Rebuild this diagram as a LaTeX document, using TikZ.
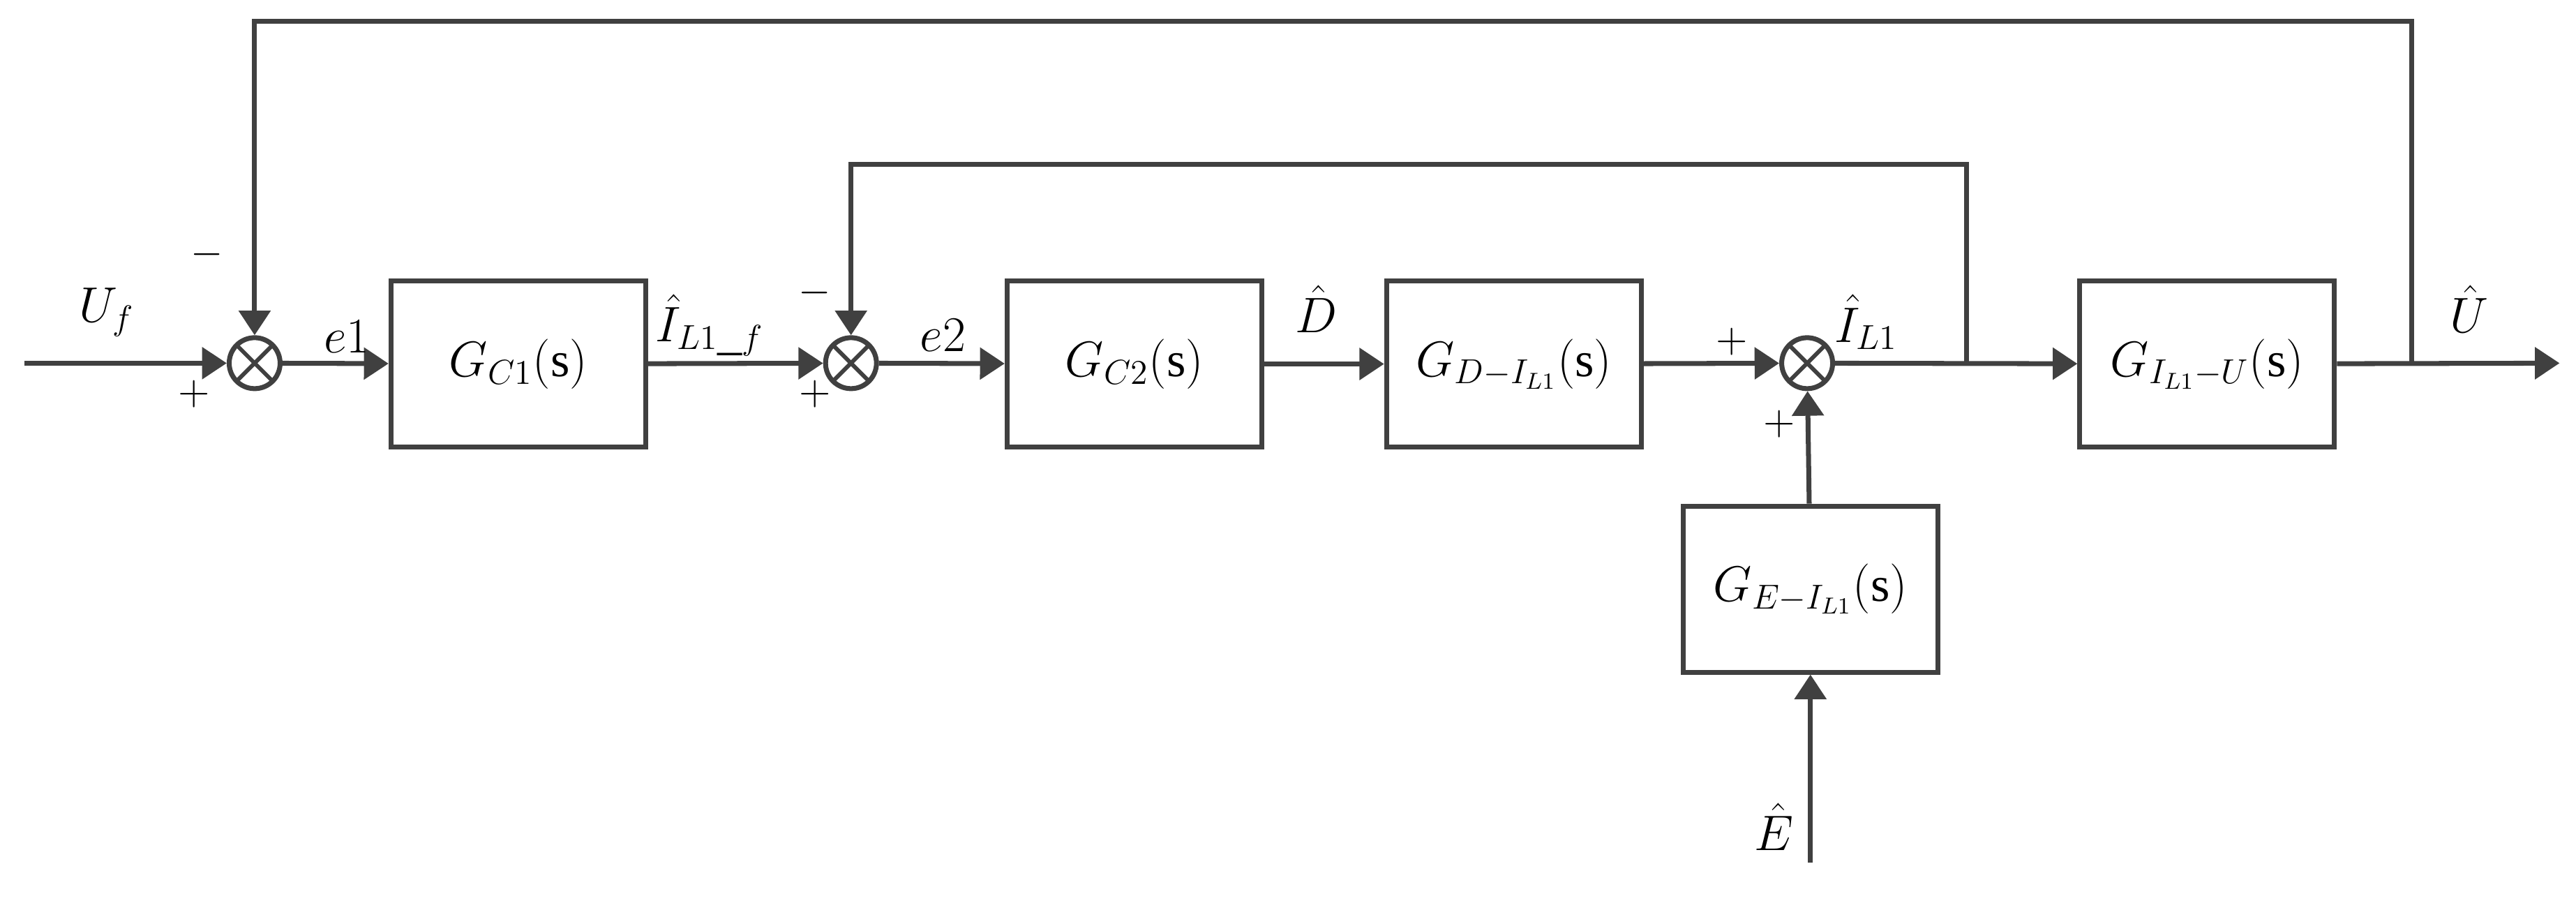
\documentclass[tikz,border=0pt]{standalone}
\usepackage{fontspec}
\setmainfont{Liberation Serif}
\usetikzlibrary{arrows.meta}
\usetikzlibrary{positioning}
\definecolor{lineGray}{HTML}{404040}
\tikzset{
  blk/.style={draw=lineGray, line width=1.7pt, minimum width=31mm, minimum height=20.2mm, inner sep=0pt,
    font=\fontsize{17}{20}\selectfont},
  sumnode/.style={draw=lineGray, line width=1.7pt, circle, minimum size=6.2mm, inner sep=0pt,
    path picture={\draw[lineGray, line width=1.4pt]
      (path picture bounding box.south west) -- (path picture bounding box.north east)
      (path picture bounding box.north west) -- (path picture bounding box.south east);}},
  sig/.style={draw=lineGray, line width=1.7pt, -{Triangle[length=3mm,width=3.8mm]}},
  lbl/.style={font=\fontsize{17}{20}\selectfont},
  sgn/.style={font=\fontsize{14}{16}\selectfont}
}
\begin{document}
\begin{tikzpicture}[x=0.2mm, y=-0.2mm]
      \useasboundingbox (0,0) rectangle (1568,548);

      % summing points and blocks
      \node[sumnode] (S1) at (155,221) {};
      \node[sumnode] (S2) at (518,221) {};
      \node[sumnode] (S3) at (1100,221) {};
      \node[blk] (GC1) at (315.5,221.5) {$G_{C1}(\mathrm{s})$};
      \node[blk] (GC2) at (690.5,221.5) {$G_{C2}(\mathrm{s})$};
      \node[blk] (GD) at (921.5,221.5) {$G_{D-I_{L1}}(\mathrm{s})$};
      \node[blk] (GU) at (1343.5,221.5) {$G_{I_{L1}-U}(\mathrm{s})$};
      \node[blk] (GE) at (1102,358.5) {$G_{E-I_{L1}}(\mathrm{s})$};

      \coordinate (In) at (15,221);
      \coordinate (Out) at (1558,221);
      \coordinate (EIn) at (1102,525);
      \coordinate (Tap1) at (1197,221);
      \coordinate (Tap2) at (1468,221);
      \coordinate (Top1) at (1197,100);
      \coordinate (Top2) at (1468,13);

      % forward path
      \draw[sig] (In) -- (S1);
      \draw[sig] (S1) -- (GC1);
      \draw[sig] (GC1) -- (S2);
      \draw[sig] (S2) -- (GC2);
      \draw[sig] (GC2) -- (GD);
      \draw[sig] (GD) -- (S3);
      \draw[sig] (S3) -- (GU);
      \draw[sig] (GU) -- (Out);
      \draw[sig] (GE) -- (S3);
      \draw[sig] (EIn) -- (GE);

      % feedback loops
      \draw[sig] (Tap1) -- (Top1) -| (S2);
      \draw[sig] (Tap2) -- (Top2) -| (S1);

      % labels
      \node[lbl] (lUf) at (65,190) {$U_{f}$};
      \node[sgn] (m1) at (126,155) {$-$};
      \node[sgn] (p1) at (118,240) {$+$};
      \node[lbl] (le1) at (211,205) {$e1$};
      \node[lbl] (lIf) at (432,198) {$\hat{I}_{L1\_f}$};
      \node[sgn] (m2) at (496,178) {$-$};
      \node[sgn] (p2) at (496,240) {$+$};
      \node[lbl] (le2) at (574,204) {$e2$};
      \node[lbl] (lD) at (801,188) {$\hat{D}$};
      \node[sgn] (p3) at (1054,208) {$+$};
      \node[sgn] (p4) at (1083,258) {$+$};
      \node[lbl] (lIL) at (1136,196) {$\hat{I}_{L1}$};
      \node[lbl] (lU) at (1503,188) {$\hat{U}$};
      \node[lbl] (lE) at (1080,503) {$\hat{E}$};
\end{tikzpicture}
\end{document}
